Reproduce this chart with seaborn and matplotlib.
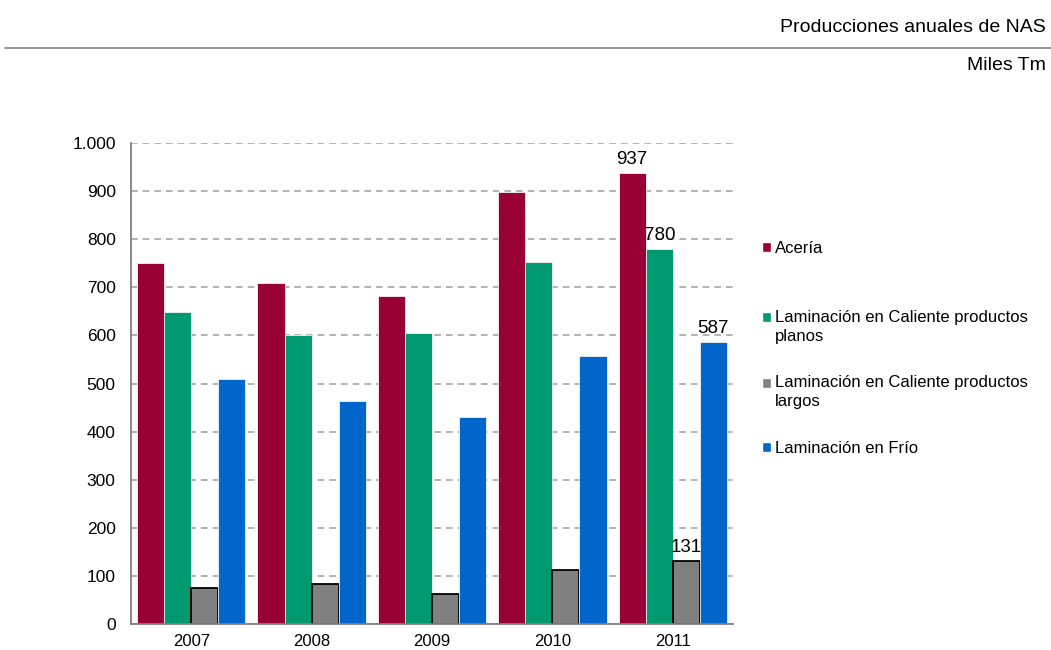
import numpy as np
import pandas as pd
import matplotlib
matplotlib.use("Agg")
import matplotlib.pyplot as plt
import seaborn as sns

# data (miles de toneladas)
years = ["2007", "2008", "2009", "2010", "2011"]
series = ["Acería",
          "Laminación en Caliente productos\nplanos",
          "Laminación en Caliente productos\nlargos",
          "Laminación en Frío"]
aceria = [750, 708, 682, 899, 937]
lc_planos = [648, 601, 605, 753, 780]
lc_largos = [74, 83, 62, 113, 131]
frio = [510, 464, 431, 558, 587]
colors = ["#990033", "#009970", "#808080", "#0066CC"]

df = pd.DataFrame({
    "year": years * 4,
    "serie": np.repeat(series, len(years)),
    "value": aceria + lc_planos + lc_largos + frio,
})

sns.set_style("white")
plt.rcParams["font.family"] = ["Liberation Sans", "DejaVu Sans"]
plt.rcParams["text.color"] = "black"
plt.rcParams["xtick.color"] = "black"
plt.rcParams["ytick.color"] = "black"

fig = plt.figure(figsize=(10.51, 6.5), dpi=100)
ax = fig.add_axes([131 / 1051, 1 - 624 / 650, (733 - 131) / 1051, (624 - 143) / 650])

sns.barplot(data=df, x="year", y="value", hue="serie", palette=colors,
            saturation=1, width=0.9, gap=0, ax=ax, errorbar=None)

# edges: light on the coloured bars, black on the grey ones
for i, cont in enumerate(ax.containers):
    for bar in cont:
        if i == 2:
            bar.set_edgecolor("black")
            bar.set_linewidth(1.3)
        else:
            bar.set_edgecolor("#f2f2f2")
            bar.set_linewidth(0.6)
    # value label only on the last year
    labels = [""] * (len(years) - 1) + [str(int(cont.datavalues[-1]))]
    ax.bar_label(cont, labels=labels, padding=3.5, fontsize=13.5, color="black")

ax.set_ylim(0, 1000)
ax.set_yticks(range(0, 1001, 100))
ax.set_yticklabels([f"{v:,}".replace(",", ".") for v in range(0, 1001, 100)], fontsize=12.5)
ax.yaxis.grid(True, color="#a6a6a6", linestyle=(0, (4, 3)), linewidth=1.2)
ax.set_axisbelow(True)
ax.set_xlim(-0.5, 4.5)
ax.set_xlabel("")
ax.set_ylabel("")
ax.tick_params(axis="y", length=5, color="#808080", labelcolor="black", width=1.2, pad=6)
ax.tick_params(axis="x", which="major", length=0, labelsize=12, labelcolor="black", pad=7)
ax.set_xticks(np.arange(-0.5, 5, 1), minor=True)
ax.tick_params(axis="x", which="minor", length=5, color="#808080", width=1.2)
for side in ["top", "right"]:
    ax.spines[side].set_visible(False)
for side in ["left", "bottom"]:
    ax.spines[side].set_color("#808080")
    ax.spines[side].set_linewidth(1.3)

# legend split in two so the gap after "Acería" matches the reference
handles, labs = ax.get_legend_handles_labels()
ax.get_legend().remove()
leg_kw = dict(frameon=False, fontsize=12, handlelength=0.55, handleheight=0.55,
              handletextpad=0.25, borderpad=0, borderaxespad=0,
              bbox_transform=fig.transFigure)
leg1 = fig.legend(handles[:1], labs[:1], loc="center left",
                  bbox_to_anchor=(762 / 1051, 1 - 248 / 650), **leg_kw)
leg2 = fig.legend(handles[1:], labs[1:], loc="upper left", labelspacing=1.89,
                  bbox_to_anchor=(762 / 1051, 1 - 310 / 650), **leg_kw)
for txt in leg2.get_texts():
    txt.set_linespacing(1.33)
# put the square next to the first line of two-line labels
for h, lab in zip(leg2.legend_handles, labs[1:]):
    if "\n" in lab:
        h.set_y(h.get_y() + 7.2)

# header
fig.text(1046 / 1051, 1 - 27 / 650, "Producciones anuales de NAS", ha="right", va="center",
         fontsize=14, family=["Liberation Sans Narrow", "Liberation Sans"])
fig.text(1046 / 1051, 1 - 65 / 650, "Miles Tm", ha="right", va="center",
         fontsize=14, family=["Liberation Sans Narrow", "Liberation Sans"])
fig.add_artist(plt.Line2D([5 / 1051, 1], [1 - 48 / 650, 1 - 48 / 650], color="#808080", linewidth=1.2))

fig.savefig("out.png", dpi=100)
